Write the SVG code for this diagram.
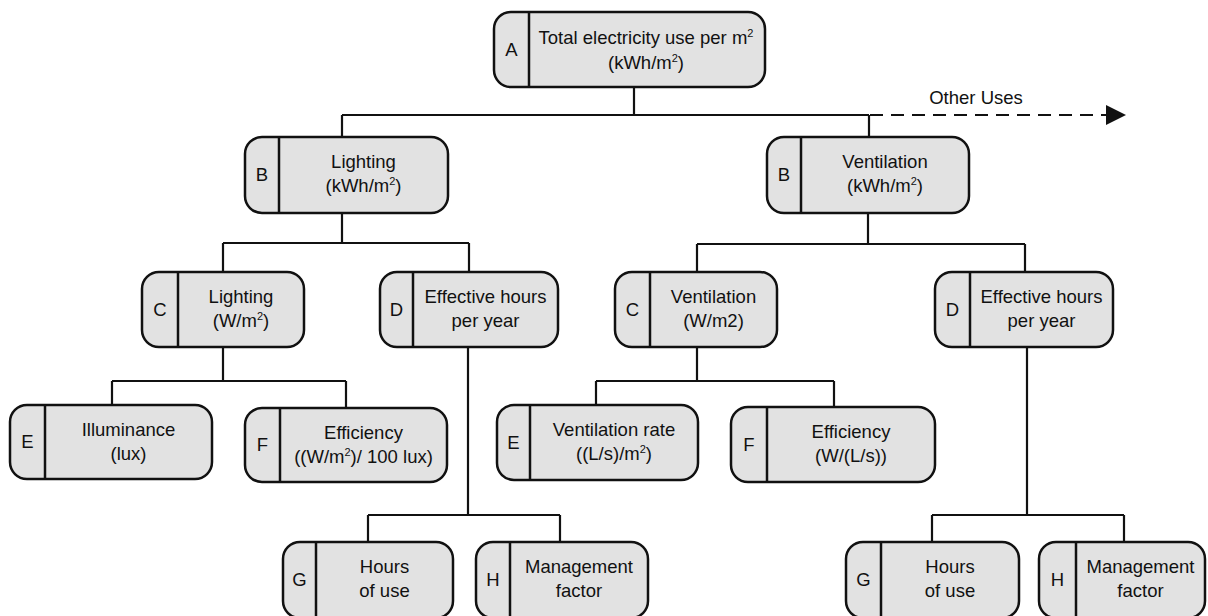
<svg xmlns="http://www.w3.org/2000/svg" width="1208" height="616" viewBox="0 0 1208 616">
  <style>
    .box { fill: #e2e2e2; stroke: #111; stroke-width: 2.5; }
    .div { stroke: #111; stroke-width: 2.5; }
    .wire { fill: none; stroke: #111; stroke-width: 2.2; }
    .dash { fill: none; stroke: #111; stroke-width: 2.2; stroke-dasharray: 13 8; }
    text { font-family: "Liberation Sans", Arial, sans-serif; font-size: 18.5px; fill: #111; text-anchor: middle; }
    .sup { font-size: 11px; }
  </style>
  <rect width="1208" height="616" fill="#fff"/>

  <!-- connectors -->
  <g id="connectors">
    <path class="wire" d="M634,87 V115 M342,115 H869 M342,115 V137 M869,115 V137"/>
    <line class="dash" x1="870" y1="115" x2="1107" y2="115"/>
    <path d="M1106,105 L1126,115 L1106,125 z" fill="#111"/>
    <path class="wire" d="M342,213 V243 M223,243 H469 M223,243 V272 M469,243 V272"/>
    <path class="wire" d="M868,213 V244 M697,244 H1025 M697,244 V272 M1025,244 V272"/>
    <path class="wire" d="M223,347 V381 M112,381 H346 M112,381 V405 M346,381 V408"/>
    <path class="wire" d="M697,347 V381 M596,381 H834 M596,381 V405 M834,381 V407"/>
    <path class="wire" d="M468,347 V515 M368,515 H560 M368,515 V542 M560,515 V542"/>
    <path class="wire" d="M1027,347 V515 M932,515 H1124 M932,515 V542 M1124,515 V542"/>
  </g>
  <text x="976" y="104">Other Uses</text>

  <!-- A -->
  <g id="node-a">
    <rect class="box" x="494" y="12" width="271" height="75" rx="17"/>
    <line class="div" x1="529" y1="12" x2="529" y2="87"/>
    <text x="511.5" y="56">A</text>
    <text x="646" y="44">Total electricity use per m<tspan class="sup" dy="-7">2</tspan></text>
    <text x="646" y="69">(kWh/m<tspan class="sup" dy="-7">2</tspan><tspan dy="7">)</tspan></text>
  </g>

  <!-- B lighting -->
  <g id="node-b-lighting">
    <rect class="box" x="245" y="137" width="203" height="76" rx="17"/>
    <line class="div" x1="279" y1="137" x2="279" y2="213"/>
    <text x="262" y="181">B</text>
    <text x="363.5" y="168">Lighting</text>
    <text x="363.5" y="192">(kWh/m<tspan class="sup" dy="-7">2</tspan><tspan dy="7">)</tspan></text>
  </g>

  <!-- B ventilation -->
  <g id="node-b-ventilation">
    <rect class="box" x="767" y="137" width="202" height="76" rx="17"/>
    <line class="div" x1="801" y1="137" x2="801" y2="213"/>
    <text x="784" y="181">B</text>
    <text x="885" y="168">Ventilation</text>
    <text x="885" y="192">(kWh/m<tspan class="sup" dy="-7">2</tspan><tspan dy="7">)</tspan></text>
  </g>

  <!-- C lighting -->
  <g id="node-c-lighting">
    <rect class="box" x="142" y="272" width="162" height="75" rx="17"/>
    <line class="div" x1="178" y1="272" x2="178" y2="347"/>
    <text x="160" y="316">C</text>
    <text x="241" y="303">Lighting</text>
    <text x="241" y="327">(W/m<tspan class="sup" dy="-7">2</tspan><tspan dy="7">)</tspan></text>
  </g>

  <!-- D lighting -->
  <g id="node-d-lighting">
    <rect class="box" x="380" y="272" width="178" height="75" rx="17"/>
    <line class="div" x1="413" y1="272" x2="413" y2="347"/>
    <text x="396.5" y="316">D</text>
    <text x="485.5" y="303">Effective hours</text>
    <text x="485.5" y="327">per year</text>
  </g>

  <!-- C ventilation -->
  <g id="node-c-ventilation">
    <rect class="box" x="615" y="272" width="162" height="75" rx="17"/>
    <line class="div" x1="650" y1="272" x2="650" y2="347"/>
    <text x="632.5" y="316">C</text>
    <text x="713.5" y="303">Ventilation</text>
    <text x="713.5" y="327">(W/m2)</text>
  </g>

  <!-- D ventilation -->
  <g id="node-d-ventilation">
    <rect class="box" x="935" y="272" width="178" height="75" rx="17"/>
    <line class="div" x1="970" y1="272" x2="970" y2="347"/>
    <text x="952.5" y="316">D</text>
    <text x="1041.5" y="303">Effective hours</text>
    <text x="1041.5" y="327">per year</text>
  </g>

  <!-- E lighting -->
  <g id="node-e-lighting">
    <rect class="box" x="10" y="405" width="202" height="74" rx="17"/>
    <line class="div" x1="45" y1="405" x2="45" y2="479"/>
    <text x="27.5" y="448">E</text>
    <text x="128.5" y="436">Illuminance</text>
    <text x="128.5" y="460">(lux)</text>
  </g>

  <!-- F lighting -->
  <g id="node-f-lighting">
    <rect class="box" x="245" y="408" width="202" height="74" rx="17"/>
    <line class="div" x1="280" y1="408" x2="280" y2="482"/>
    <text x="262.5" y="451">F</text>
    <text x="363.5" y="439">Efficiency</text>
    <text x="363.5" y="463">((W/m<tspan class="sup" dy="-7">2</tspan><tspan dy="7">)/ 100 lux)</tspan></text>
  </g>

  <!-- E ventilation -->
  <g id="node-e-ventilation">
    <rect class="box" x="497" y="405" width="201" height="75" rx="17"/>
    <line class="div" x1="530" y1="405" x2="530" y2="480"/>
    <text x="513.5" y="449">E</text>
    <text x="614" y="436">Ventilation rate</text>
    <text x="614" y="460">((L/s)/m<tspan class="sup" dy="-7">2</tspan><tspan dy="7">)</tspan></text>
  </g>

  <!-- F ventilation -->
  <g id="node-f-ventilation">
    <rect class="box" x="731" y="407" width="204" height="75" rx="17"/>
    <line class="div" x1="767" y1="407" x2="767" y2="482"/>
    <text x="749" y="451">F</text>
    <text x="851" y="438">Efficiency</text>
    <text x="851" y="462">(W/(L/s))</text>
  </g>

  <!-- G lighting -->
  <g id="node-g-lighting">
    <rect class="box" x="283" y="542" width="170" height="76" rx="17"/>
    <line class="div" x1="316" y1="542" x2="316" y2="618"/>
    <text x="299.5" y="586">G</text>
    <text x="384.5" y="573">Hours</text>
    <text x="384.5" y="597">of use</text>
  </g>

  <!-- H lighting -->
  <g id="node-h-lighting">
    <rect class="box" x="476" y="542" width="172" height="76" rx="17"/>
    <line class="div" x1="510" y1="542" x2="510" y2="618"/>
    <text x="493" y="586">H</text>
    <text x="579" y="573">Management</text>
    <text x="579" y="597">factor</text>
  </g>

  <!-- G ventilation -->
  <g id="node-g-ventilation">
    <rect class="box" x="846" y="542" width="173" height="76" rx="17"/>
    <line class="div" x1="881" y1="542" x2="881" y2="618"/>
    <text x="863.5" y="586">G</text>
    <text x="950" y="573">Hours</text>
    <text x="950" y="597">of use</text>
  </g>

  <!-- H ventilation -->
  <g id="node-h-ventilation">
    <rect class="box" x="1039" y="542" width="166" height="76" rx="17"/>
    <line class="div" x1="1076" y1="542" x2="1076" y2="618"/>
    <text x="1057.5" y="586">H</text>
    <text x="1140.5" y="573">Management</text>
    <text x="1140.5" y="597">factor</text>
  </g>
</svg>
